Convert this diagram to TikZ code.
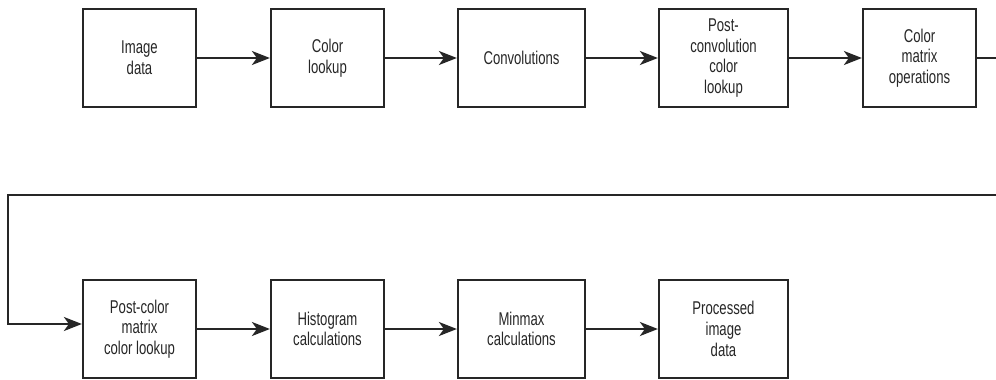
\documentclass[tikz,border=0pt]{standalone}
\usepackage{fontspec}
\setmainfont[FakeStretch=0.71]{Liberation Sans}
\usetikzlibrary{arrows.meta}
\begin{document}
\begin{tikzpicture}[x=1pt,y=1pt,
  box/.style={draw=black!85, line width=2.2pt, minimum height=98pt, align=center,
    font=\fontsize{18.5}{20.7}\selectfont, inner sep=0pt, text=black!85},
  flow/.style={draw=black!85, line width=2.2pt, -{Stealth[length=18pt,width=14pt,inset=5pt]}}]
\useasboundingbox (0,0) rectangle (996,-380);
\node[box, minimum width=113pt] (a) at (139.5,-58) {Image\\data};
\node[box, minimum width=113pt] (b) at (327.5,-58) {Color\\lookup};
\node[box, minimum width=127pt] (c) at (521.5,-58) {Convolutions};
\node[box, minimum width=129pt] (d) at (723.5,-58) {Post-\\convolution\\color\\lookup};
\node[box, minimum width=113pt] (e) at (919.5,-58) {Color\\matrix\\operations};
\node[box, minimum width=113pt] (f) at (139.5,-329) {Post-color\\matrix\\color lookup};
\node[box, minimum width=113pt] (g) at (327.5,-329) {Histogram\\calculations};
\node[box, minimum width=127pt] (h) at (521.5,-329) {Minmax\\calculations};
\node[box, minimum width=129pt] (i) at (723.5,-329) {Processed\\image\\data};
\coordinate (r1) at (1010,-58);
\coordinate (r2) at (1010,-195);
\coordinate (l1) at (8,-195);
\coordinate (l2) at (8,-324);
\draw[flow] (a) -- (b);
\draw[flow] (b) -- (c);
\draw[flow] (c) -- (d);
\draw[flow] (d) -- (e);
\draw[flow] (e.east) -- (r1) -- (r2) -- (l1) -- (l2) -- (l2 -| f.west);
\draw[flow] (f) -- (g);
\draw[flow] (g) -- (h);
\draw[flow] (h) -- (i);
\end{tikzpicture}
\end{document}
